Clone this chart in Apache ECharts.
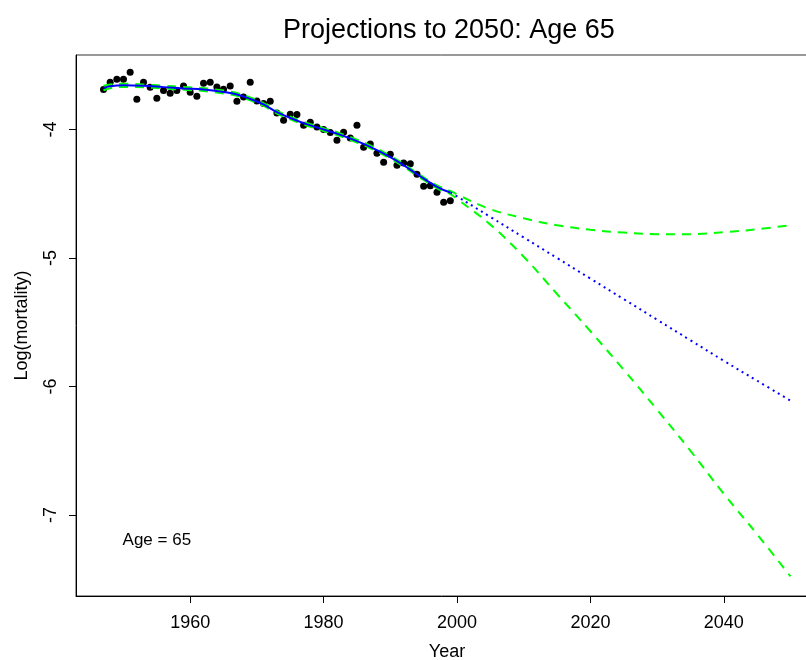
<!DOCTYPE html>
<html>
<head>
<meta charset="utf-8">
<script src="https://cdn.jsdelivr.net/npm/echarts@6/dist/echarts.min.js"></script>
<style>
  html, body { margin: 0; padding: 0; background: #ffffff; }
  #chart { width: 806px; height: 660px; }
</style>
</head>
<body>
<div id="chart"></div>
<script>
// Observed log mortality, age 65
const obsYears = [1947,1948,1949,1950,1951,1952,1953,1954,1955,1956,1957,1958,1959,1960,1961,1962,1963,1964,1965,1966,1967,1968,1969,1970,1971,1972,1973,1974,1975,1976,1977,1978,1979,1980,1981,1982,1983,1984,1985,1986,1987,1988,1989,1990,1991,1992,1993,1994,1995,1996,1997,1998,1999];
const obsValues = [-3.689,-3.632,-3.609,-3.609,-3.554,-3.764,-3.632,-3.671,-3.757,-3.697,-3.718,-3.697,-3.661,-3.710,-3.741,-3.640,-3.632,-3.669,-3.687,-3.661,-3.780,-3.747,-3.632,-3.778,-3.798,-3.780,-3.871,-3.928,-3.881,-3.883,-3.967,-3.943,-3.980,-4.000,-4.023,-4.083,-4.021,-4.065,-3.967,-4.138,-4.112,-4.184,-4.254,-4.192,-4.278,-4.260,-4.267,-4.348,-4.441,-4.438,-4.488,-4.565,-4.555];

// Fitted curve (fit period)
const fitYears = [1947,1948,1950,1953,1956,1959,1962,1965,1967,1969,1971,1973,1975,1977,1980,1982,1985,1987,1990,1992,1994,1997,1999];
const fitValues = [-3.678,-3.664,-3.656,-3.660,-3.670,-3.680,-3.689,-3.708,-3.727,-3.762,-3.805,-3.865,-3.910,-3.950,-4.000,-4.032,-4.090,-4.135,-4.215,-4.278,-4.348,-4.446,-4.490];
const fitUpper = [-3.660,-3.650,-3.644,-3.649,-3.659,-3.669,-3.678,-3.697,-3.716,-3.751,-3.794,-3.854,-3.899,-3.939,-3.989,-4.021,-4.079,-4.124,-4.204,-4.267,-4.337,-4.435,-4.478];
const fitLower = [-3.696,-3.678,-3.668,-3.671,-3.681,-3.691,-3.700,-3.719,-3.738,-3.773,-3.816,-3.876,-3.921,-3.961,-4.011,-4.043,-4.101,-4.146,-4.226,-4.289,-4.359,-4.457,-4.502];

// Projections to 2050
const projYears = [1999,2000,2005,2010,2015,2020,2025,2030,2035,2040,2045,2050];
const projValues = [-4.490,-4.520,-4.680,-4.840,-5.000,-5.160,-5.320,-5.480,-5.640,-5.800,-5.955,-6.110];
const projUpper = [-4.478,-4.505,-4.620,-4.690,-4.745,-4.780,-4.802,-4.814,-4.814,-4.799,-4.776,-4.744];
const projLower = [-4.502,-4.540,-4.740,-4.990,-5.280,-5.570,-5.870,-6.180,-6.500,-6.835,-7.150,-7.478];

const xTicks = [1960,1980,2000,2020,2040];
const yTicks = [-7,-6,-5,-4];
const annotation = { year: 1955, value: -7.2, text: 'Age = 65' };

const pairs = (xs, ys) => xs.map((x, i) => [x, ys[i]]);
const FONT = 'Liberation Sans, Arial, Helvetica, sans-serif';
const GREEN = '#00ff00';
const BLUE = '#0000ff';

const chart = echarts.init(document.getElementById('chart'), null, { renderer: 'canvas' });
chart.setOption({
  animation: false,
  backgroundColor: '#ffffff',
  title: {
    text: 'Projections to 2050: Age 65',
    left: 278,
    top: 12,
    textStyle: { fontFamily: FONT, fontSize: 27, fontWeight: 'normal', color: '#000' }
  },
  grid: {
    left: 76, top: 55, bottom: 64, right: -12,
    outerBoundsMode: 'none', containLabel: false,
    show: true, borderColor: '#333', borderWidth: 1, backgroundColor: 'transparent'
  },
  xAxis: {
    type: 'value',
    min: 1942.88, max: 2054.12,
    name: 'Year', nameLocation: 'middle', nameGap: 47,
    nameTextStyle: { fontFamily: FONT, fontSize: 18, color: '#000' },
    axisLine: { show: true, onZero: false, lineStyle: { color: '#000', width: 1 } },
    axisTick: { show: true, length: 7, lineStyle: { color: '#000' }, customValues: xTicks },
    axisLabel: { fontFamily: FONT, fontSize: 18, color: '#000', margin: 18, customValues: xTicks,
                 formatter: v => String(v) },
    splitLine: { show: false }
  },
  yAxis: {
    type: 'value',
    min: -7.63, max: -3.42,
    name: 'Log(mortality)', nameLocation: 'middle', nameGap: 45, nameRotate: 90,
    nameTextStyle: { fontFamily: FONT, fontSize: 18, color: '#000' },
    axisLine: { show: true, onZero: false, lineStyle: { color: '#000', width: 1 } },
    axisTick: { show: true, length: 7, lineStyle: { color: '#000' }, customValues: yTicks },
    axisLabel: { fontFamily: FONT, fontSize: 18, color: '#000', margin: 16, rotate: 90,
                 customValues: yTicks, formatter: v => String(v) },
    splitLine: { show: false }
  },
  series: [
    {
      type: 'scatter', data: pairs(obsYears, obsValues), symbol: 'circle', symbolSize: 7,
      itemStyle: { color: '#000', opacity: 1 }, z: 2
    },
    {
      type: 'line', data: pairs(fitYears.concat(projYears.slice(1)), fitUpper.concat(projUpper.slice(1))),
      smooth: 0.4, showSymbol: false, lineStyle: { color: GREEN, width: 2, type: [9, 7] }, z: 3
    },
    {
      type: 'line', data: pairs(fitYears.concat(projYears.slice(1)), fitLower.concat(projLower.slice(1))),
      smooth: 0.4, showSymbol: false, lineStyle: { color: GREEN, width: 2, type: [9, 7] }, z: 3
    },
    {
      type: 'line', data: pairs(fitYears, fitValues),
      smooth: 0.4, showSymbol: false, lineStyle: { color: BLUE, width: 2, type: 'solid' }, z: 4
    },
    {
      type: 'line', data: pairs(projYears, projValues),
      smooth: 0.4, showSymbol: false, lineStyle: { color: BLUE, width: 2, type: [2, 4] }, z: 4
    },
    {
      type: 'scatter', data: [[annotation.year, annotation.value]], symbolSize: 0, silent: true,
      itemStyle: { opacity: 1 },
      label: { show: true, position: 'inside', formatter: annotation.text,
               fontFamily: FONT, fontSize: 17, color: '#000' }
    }
  ]
});
</script>
</body>
</html>
